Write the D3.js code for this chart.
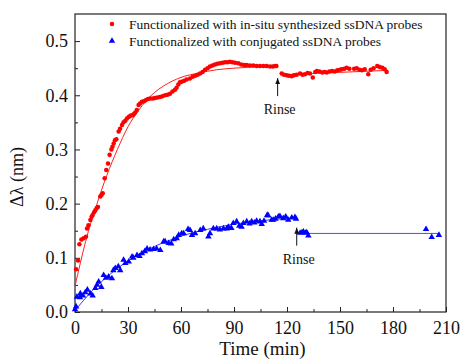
<!DOCTYPE html>
<html>
<head>
<meta charset="utf-8">
<script src="https://cdn.jsdelivr.net/npm/d3@7"></script>
<style>
  body { margin: 0; background: #fff; }
  svg text { font-family: "Liberation Serif", "Times New Roman", serif; }
</style>
</head>
<body>
<div id="chart"></div>
<script>
(function(){
    var W = 461, H = 361;
    var margin = {top: 14, right: 15, bottom: 49, left: 75};
    var width = W - margin.left - margin.right;
    var height = H - margin.top - margin.bottom;
    var serif = "Liberation Serif, Times New Roman, serif";

    // in-situ synthesized probes (red), before rinse
    var redTime = [0.6,1.7,2.5,3.6,4.9,6.2,6.8,7.6,8.7,9.4,10,10.8,11.5,12.3,13,14.3,15,15.7,16.8,17.7,18.7,19.6,20.6,21.2,21.9,22.6,23.4,24.7,25.5,26.6,27.5,28.5,29.4,30.4,31.3,32.3,33.2,34.1,35,36,36.8,37.9,39,40,41.3,42.5,44,45.3,46.7,48.1,49.5,51,52.4,53.8,55.2,56.6,57.5,58.5,59.4,60.4,61.8,63.2,65.1,66.6,68,69.4,70.8,72.2,73.6,75,76.4,77.8,79.2,80.6,82.1,83.5,84.9,86.3,87.7,89.1,90.6,92.4,94,95.6,97.2,99,100.9,102.8,104.7,106.6,108.5,110.4,112,113.2,114];
    var redShift = [0.079,0.095,0.125,0.134,0.136,0.139,0.154,0.16,0.17,0.176,0.179,0.184,0.188,0.192,0.194,0.213,0.216,0.219,0.247,0.262,0.274,0.29,0.30,0.305,0.311,0.317,0.319,0.333,0.338,0.345,0.35,0.353,0.357,0.36,0.362,0.363,0.365,0.368,0.373,0.382,0.385,0.388,0.389,0.391,0.393,0.394,0.394,0.395,0.396,0.397,0.398,0.40,0.401,0.403,0.407,0.41,0.414,0.42,0.424,0.425,0.427,0.429,0.431,0.434,0.436,0.438,0.44,0.443,0.447,0.45,0.453,0.455,0.457,0.458,0.459,0.46,0.461,0.461,0.462,0.461,0.46,0.459,0.457,0.456,0.456,0.455,0.455,0.454,0.454,0.454,0.454,0.453,0.453,0.454,0.454];
    // red, after rinse
    var redRinseTime = [117,118.3,119.8,121,122.7,124,125.5,127.4,128.8,130.2,131.6,133,134.6,136,136.9,138.4,140,141.3,142.5,144,145.5,147,148.5,150,151,152.4,153.8,155.3,158,159.5,161,162.4,164,166,167.4,169,171.1,172.5,174,175.3,176.4];
    var redRinseShift = [0.44,0.438,0.437,0.436,0.435,0.437,0.438,0.44,0.438,0.439,0.441,0.44,0.433,0.443,0.445,0.444,0.442,0.443,0.442,0.444,0.445,0.444,0.446,0.447,0.448,0.449,0.451,0.449,0.449,0.45,0.447,0.446,0.448,0.439,0.447,0.45,0.454,0.452,0.451,0.448,0.443];
    // red fit curve
    var redFitTime = [0,3,6,9,12,15,18,21,24,27,30,33,36,40,45,50,55,60,70,80,90,100,114];
    var redFitShift = [0.048,0.09,0.13,0.165,0.195,0.225,0.252,0.277,0.30,0.322,0.342,0.358,0.372,0.389,0.405,0.417,0.426,0.433,0.441,0.447,0.45,0.452,0.453];
    var redRinseFitTime = [118,177];
    var redRinseFitShift = [0.438,0.446];

    // conjugated probes (blue), before rinse
    var blueTime = [0,0.6,1.1,2.8,3,4.5,5.8,7,8.7,10,11.5,12.5,13.4,14.9,16.2,17.5,19,20.9,21.7,22.8,24.5,25.6,27.5,28.5,30.4,32.3,33,35.1,36.5,37.9,39.5,40.8,42.5,44.5,46.2,48.3,50.2,51,53,54.5,55.9,57.6,58.7,60.4,61.5,64,65.1,66.2,68,70.9,72.6,75.5,76.4,78.3,80.2,82,84,85.9,86.8,88.5,89.6,91.5,93,94.3,95.3,97.2,98.8,100,101.5,102.8,104.7,105.7,107,108.8,109.4,111.3,112.2,113.5,115.1,116,117.9,119.3,120.7,122.7,124.5,125.1];
    var blueShift = [0.005,0.01,0.028,0.027,0.034,0.03,0.036,0.041,0.034,0.03,0.044,0.05,0.056,0.046,0.068,0.063,0.065,0.062,0.077,0.081,0.084,0.077,0.096,0.09,0.093,0.102,0.10,0.105,0.103,0.108,0.112,0.117,0.115,0.116,0.117,0.114,0.13,0.13,0.127,0.126,0.134,0.136,0.142,0.145,0.145,0.153,0.151,0.142,0.145,0.151,0.154,0.139,0.145,0.154,0.154,0.152,0.154,0.154,0.157,0.155,0.164,0.167,0.159,0.157,0.164,0.167,0.163,0.167,0.165,0.168,0.167,0.162,0.168,0.179,0.178,0.17,0.17,0.172,0.176,0.177,0.173,0.176,0.17,0.174,0.175,0.172];
    // blue, after rinse
    var blueRinseTime = [127.4,128.5,129.3,130.5,131.2,132.1,198.7,201.9,206];
    var blueRinseShift = [0.146,0.147,0.148,0.146,0.147,0.141,0.153,0.138,0.142];
    // blue fit curve
    var blueFitTime = [0,5,10,15,20,25,30,35,40,45,50,55,60,70,80,90,100,110,125];
    var blueFitShift = [0.003,0.022,0.04,0.056,0.07,0.083,0.094,0.104,0.113,0.121,0.128,0.134,0.14,0.149,0.156,0.162,0.166,0.17,0.174];
    var blueRinseFitTime = [128,206];
    var blueRinseFitShift = [0.145,0.145];

    var xTicks = [0,30,60,90,120,150,180,210];
    var yTicks = [0.0,0.1,0.2,0.3,0.4,0.5];
    var legendLabels = ["Functionalized with in-situ synthesized ssDNA probes",
                        "Functionalized with conjugated ssDNA probes"];
    var rinseTimes = [114.7, 125.5];
    var rinseShifts = [0.452, 0.176];

    function pairs(t, v) { return t.map(function(d, i){ return [d, v[i]]; }); }

    var svg = d3.select("#chart").append("svg")
        .attr("width", W).attr("height", H);
    var g = svg.append("g")
        .attr("transform", "translate(" + margin.left + "," + margin.top + ")");

    var x = d3.scaleLinear().domain([0, 210]).range([0, width]);
    var y = d3.scaleLinear().domain([0, 0.55]).range([height, 0]);

    // axes, ticks pointing inward
    g.append("g").attr("transform", "translate(0," + height + ")")
        .call(d3.axisBottom(x).tickValues(xTicks).tickSize(-5).tickPadding(9).tickFormat(d3.format("d")));
    g.append("g").attr("transform", "translate(0," + height + ")")
        .call(d3.axisBottom(x).tickValues(d3.range(15, 210, 30)).tickSize(-3).tickFormat(""));
    g.append("g")
        .call(d3.axisLeft(y).tickValues(yTicks).tickSize(-5).tickPadding(7).tickFormat(d3.format(".1f")));
    g.append("g")
        .call(d3.axisLeft(y).tickValues([0.05,0.15,0.25,0.35,0.45]).tickSize(-3).tickFormat(""));
    g.selectAll(".domain").remove();
    g.selectAll("g").attr("font-family", serif);
    g.selectAll(".tick line").attr("stroke", "#222");
    g.selectAll(".tick text").attr("font-size", 18).attr("fill", "#111");

    g.append("rect").attr("width", width).attr("height", height)
        .attr("fill", "none").attr("stroke", "#222").attr("stroke-width", 1.2);

    var line = d3.line().x(function(d){ return x(d[0]); }).y(function(d){ return y(d[1]); });
    var curve = d3.line().curve(d3.curveMonotoneX)
        .x(function(d){ return x(d[0]); }).y(function(d){ return y(d[1]); });

    // fit lines
    g.append("path").datum(pairs(redFitTime, redFitShift)).attr("d", curve)
        .attr("fill", "none").attr("stroke", "#ff2020").attr("stroke-width", 1);
    g.append("path").datum(pairs(redRinseFitTime, redRinseFitShift)).attr("d", line)
        .attr("fill", "none").attr("stroke", "#ff2020").attr("stroke-width", 1);
    g.append("path").datum(pairs(blueFitTime, blueFitShift)).attr("d", curve)
        .attr("fill", "none").attr("stroke", "#3a3aff").attr("stroke-width", 1);
    g.append("path").datum(pairs(blueRinseFitTime, blueRinseFitShift)).attr("d", line)
        .attr("fill", "none").attr("stroke", "#4a4aff").attr("stroke-width", 1);

    var circ = d3.symbol().type(d3.symbolCircle).size(16);
    var tri = d3.symbol().type(d3.symbolTriangle).size(18);

    g.selectAll(".red").data(pairs(redTime, redShift).concat(pairs(redRinseTime, redRinseShift)))
        .enter().append("path").attr("class", "red").attr("d", circ)
        .attr("transform", function(d){ return "translate(" + x(d[0]) + "," + y(d[1]) + ")"; })
        .attr("fill", "#ff0000");
    g.selectAll(".blue").data(pairs(blueTime, blueShift).concat(pairs(blueRinseTime, blueRinseShift)))
        .enter().append("path").attr("class", "blue").attr("d", tri)
        .attr("transform", function(d){ return "translate(" + x(d[0]) + "," + y(d[1]) + ")"; })
        .attr("fill", "#0000ff");

    // rinse arrows
    svg.append("defs").append("marker").attr("id", "arr")
        .attr("viewBox", "0 0 10 10").attr("refX", 10).attr("refY", 5)
        .attr("markerWidth", 6).attr("markerHeight", 6).attr("orient", "auto")
        .append("path").attr("d", "M0,1 L10,5 L0,9 Z").attr("fill", "#111");
    rinseTimes.forEach(function(t, i){
        var px = x(t), py = y(rinseShifts[i]);
        g.append("line").attr("x1", px).attr("x2", px)
            .attr("y1", py + 29).attr("y2", py + 11)
            .attr("stroke", "#111").attr("stroke-width", 1)
            .attr("marker-end", "url(#arr)");
        g.append("text").attr("x", px + 2).attr("y", py + 47)
            .attr("text-anchor", "middle").attr("font-size", 14).attr("fill", "#111")
            .attr("font-family", serif)
            .text("Rinse");
    });

    // legend
    var leg = g.append("g").attr("transform", "translate(37,10)");
    leg.append("path").attr("d", circ).attr("transform", "translate(0,0)").attr("fill", "#ff0000");
    leg.append("path").attr("d", tri).attr("transform", "translate(0,17)").attr("fill", "#0000ff");
    leg.selectAll("text").data(legendLabels).enter().append("text")
        .attr("x", 17).attr("y", function(d, i){ return i * 17 + 4.5; })
        .attr("font-size", 13.5).attr("fill", "#111").attr("font-family", serif)
        .text(function(d){ return d; });

    // axis titles
    svg.append("text").attr("x", margin.left + width / 2 + 2).attr("y", 355)
        .attr("text-anchor", "middle").attr("font-size", 19).attr("fill", "#111")
        .attr("font-family", serif)
        .text("Time (min)");
    svg.append("text").attr("transform", "translate(23," + (margin.top + height / 2 + 14) + ") rotate(-90)")
        .attr("text-anchor", "middle").attr("font-size", 18).attr("fill", "#111")
        .attr("font-family", serif)
        .text("Δλ (nm)");
})();
</script>
</body>
</html>
